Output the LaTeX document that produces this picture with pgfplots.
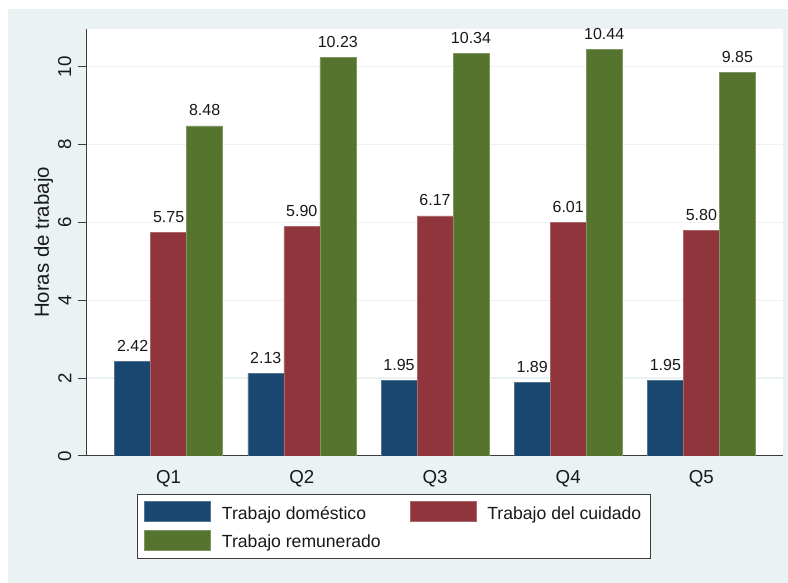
\documentclass[border=0pt]{standalone}
\usepackage{pgfplots}
\pgfplotsset{compat=1.18}
\usepackage{fontspec}
\setmainfont{Liberation Sans}
\definecolor{sblue}{HTML}{1A476F}
\definecolor{sred}{HTML}{90353B}
\definecolor{sgreen}{HTML}{55752F}
\definecolor{bgc}{HTML}{EAF2F3}
\definecolor{axc}{HTML}{3C3C3C}
\begin{document}
\begin{tikzpicture}
  \useasboundingbox (0pt,0pt) rectangle (788pt,583pt);
  \fill[white] (0pt,0pt) rectangle (788pt,583pt);
  \fill[bgc] (8pt,0pt) rectangle (788pt,574pt);
  \begin{axis}[
      at={(87pt,127pt)}, anchor=south west,
      scale only axis, width=696pt, height=427pt,
      xmin=0.3872, xmax=5.6128, ymin=0, ymax=10.97,
      axis background/.style={fill=white},
      axis x line*=bottom, axis y line*=left,
      axis line style={draw=axc, line width=1pt},
      ybar=0pt, bar width=36pt,
      ymajorgrids, grid style={draw=bgc, line width=1.5pt},
      xtick={1,2,3,4,5}, xticklabels={Q1,Q2,Q3,Q4,Q5},
      ytick={0,2,4,6,8,10},
      tick align=outside, major tick length=9pt,
      ytick style={draw=axc, line width=1pt},
      xtick style={draw=none},
      /pgf/number format/assume math mode=true,
      ticklabel style={font=\fontsize{18.7}{20}\selectfont, text=black!90},
      yticklabel style={rotate=90, anchor=south, inner sep=0pt, yshift=6.5pt},
      xticklabel style={anchor=north, inner sep=0pt, yshift=-5pt},
      ylabel={Horas de trabajo},
      ylabel style={font=\fontsize{20.4}{22}\selectfont, text=black!90, at={(axis description cs:-0.0625,0.5)}, anchor=center},
      nodes near coords={\pgfmathprintnumber[fixed,fixed zerofill,precision=2]{\pgfplotspointmeta}},
      every node near coord/.append style={font=\fontsize{16}{18}\selectfont, text=black!90, inner sep=0pt, anchor=south, yshift=9.5pt},
      legend columns=2,
      legend cell align=left,
      legend image code/.code={\fill[#1] (0pt,-8pt) rectangle (66pt,12pt);},
      legend style={at={(axis description cs:0.0718,-0.089)}, anchor=north west,
        draw=axc, line width=0.8pt, fill=white,
        font=\fontsize{17.6}{20}\selectfont, text=black!90,
        inner xsep=7pt, inner ysep=7pt, row sep=7pt,
        /tikz/column 1/.style={column sep=9pt},
        /tikz/column 2/.style={column sep=27pt},
        /tikz/column 3/.style={column sep=9pt}},
    ]
    \addplot[fill=sblue, draw=sblue!75!white, line width=0.6pt] coordinates {(1,2.42) (2,2.13) (3,1.95) (4,1.89) (5,1.95)};
    \addlegendentry{Trabajo doméstico}
    \addplot[fill=sred, draw=sred!75!white, line width=0.6pt] coordinates {(1,5.75) (2,5.90) (3,6.17) (4,6.01) (5,5.80)};
    \addlegendentry{Trabajo del cuidado}
    \addplot[fill=sgreen, draw=sgreen!75!white, line width=0.6pt] coordinates {(1,8.48) (2,10.23) (3,10.34) (4,10.44) (5,9.85)};
    \addlegendentry{Trabajo remunerado}
  \end{axis}
\end{tikzpicture}
\end{document}
